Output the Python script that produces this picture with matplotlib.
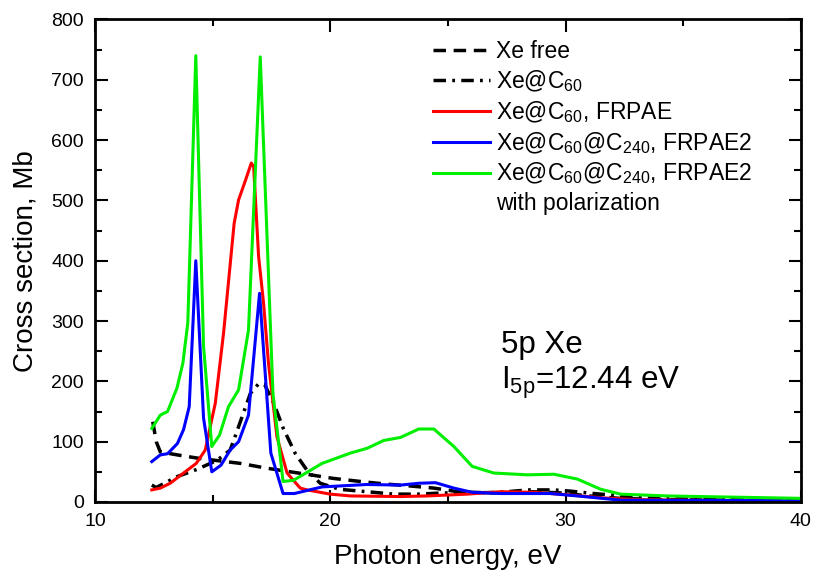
import matplotlib
matplotlib.use('Agg')
import matplotlib.pyplot as plt
from matplotlib.ticker import MultipleLocator

plt.rcParams['font.family'] = ['Liberation Sans', 'DejaVu Sans']
plt.rcParams['mathtext.fontset'] = 'custom'
plt.rcParams['mathtext.rm'] = 'Liberation Sans'
plt.rcParams['mathtext.it'] = 'Liberation Sans'

# --- DATA ---
e_free = [12.45, 12.6, 12.77, 13.5, 14.47, 16.17, 17.3, 18.3, 19.15, 20.14, 21.28,
          22.27, 23.26, 24.4, 25.25, 26.0, 27.2, 28.6, 29.8, 31.0, 32.3, 34.0, 37.0, 40.0]
xe_free = [133, 100, 83, 78, 72, 64, 56, 50, 45, 39, 34,
           30, 27, 23, 18, 16, 15, 17, 15, 10, 6, 4, 3, 2]

e_c60 = [12.41, 12.6, 13.48, 14.33, 15.18, 15.74, 15.9, 16.1, 16.3, 16.6, 16.95, 17.2,
         17.59, 18.0, 18.5, 19.0, 19.57, 20.4, 21.56, 22.7, 23.7, 24.8, 26.0, 27.2,
         28.4, 29.5, 30.2, 31.2, 32.1, 33.0, 35.0, 40.0]
xe_c60 = [28, 24, 42, 54, 69, 86, 103, 125, 147, 180, 196, 195,
          164, 122, 81, 53, 31, 21, 17, 13, 13, 15, 15, 16,
          20, 20, 18, 14, 11, 7, 5, 3]

e_frpae = [12.41, 12.77, 13.19, 13.76, 14.30, 14.68, 15.11, 15.46, 15.91, 16.10, 16.38,
           16.64, 16.74, 16.95, 17.16, 17.37, 17.73, 18.16, 18.72, 19.01, 20.0, 20.85,
           22.98, 24.11, 25.82, 27.23, 28.65, 30.07, 31.49, 32.91, 40.0]
xe_c60_frpae = [20, 23, 31, 48, 64, 86, 164, 280, 462, 501, 532,
                562, 556, 407, 330, 230, 108, 48, 23, 20, 13, 10,
                9, 10, 13, 17, 16, 12, 7, 4, 0.5]

e_frpae2 = [12.41, 12.77, 13.08, 13.50, 13.76, 14.0, 14.28, 14.61, 14.96, 15.35, 15.74,
            16.10, 16.52, 16.99, 17.47, 17.99, 18.47, 19.65, 21.56, 22.98, 23.76, 24.47,
            25.25, 26.03, 27.23, 29.36, 30.5, 32.34, 40.0]
xe_c240_frpae2 = [67, 78, 80, 97, 120, 158, 400, 139, 50, 61, 86,
                  100, 144, 346, 81, 14, 14, 25, 29, 28, 31, 32,
                  23, 16, 14, 14, 10, 3, 2]

e_pol = [12.41, 12.77, 13.08, 13.48, 13.73, 13.94, 14.28, 14.61, 14.96, 15.29, 15.67,
         16.10, 16.52, 17.02, 17.56, 17.99, 18.44, 19.65, 20.85, 21.56, 22.27, 22.98,
         23.76, 24.40, 25.25, 26.03, 26.95, 28.37, 29.50, 30.5, 31.5, 32.34, 34.33,
         37.16, 40.0]
xe_c240_pol = [122, 144, 150, 189, 230, 297, 740, 258, 92, 111, 158,
               186, 285, 738, 180, 34, 36, 64, 81, 89, 102, 107,
               121, 121, 92, 59, 48, 45, 46, 38, 21, 13, 10,
               8, 6]

fig = plt.figure(figsize=(8.13, 5.82), dpi=100)
ax = fig.add_axes([0.117, 0.1375, 0.868, 0.829])

lw = 2.2
ax.plot(e_free, xe_free, color='black', lw=2.5, dashes=(3.6, 2.2), label='Xe free')
ax.plot(e_c60, xe_c60, color='black', lw=2.5, dashes=(3.6, 1.8, 0.8, 1.8),
        label='Xe@C$_{60}$')
ax.plot(e_frpae, xe_c60_frpae, color='#ff0000', lw=lw, label='Xe@C$_{60}$, FRPAE')
ax.plot(e_frpae2, xe_c240_frpae2, color='#0000ff', lw=lw,
        label='Xe@C$_{60}$@C$_{240}$, FRPAE2')
ax.plot(e_pol, xe_c240_pol, color='#00ee00', lw=lw,
        label='Xe@C$_{60}$@C$_{240}$, FRPAE2')
ax.plot([], [], color='none', label='with polarization')

ax.set_xlim(10, 40)
ax.set_ylim(0, 800)
ax.xaxis.set_major_locator(MultipleLocator(10))
ax.xaxis.set_minor_locator(MultipleLocator(5))
ax.yaxis.set_major_locator(MultipleLocator(100))
ax.yaxis.set_minor_locator(MultipleLocator(50))
ax.tick_params(which='both', direction='in', top=True, right=True, width=1.5,
               labelsize=14, pad=8)
ax.tick_params(which='major', length=9)
ax.tick_params(which='minor', length=5)
for s in ax.spines.values():
    s.set_linewidth(2)

ax.set_xlabel('Photon energy, eV', fontsize=20, labelpad=10)
ax.set_ylabel('Cross section, Mb', fontsize=20, labelpad=9)

ax.text(0.575, 0.283, '5p Xe\nI$_{5p}$=12.44 eV', transform=ax.transAxes,
        fontsize=22.5, va='center', ha='left', linespacing=1.2)

ax.legend(loc='upper left', bbox_to_anchor=(0.449, 1.0), frameon=False,
          fontsize=16.5, handlelength=2.5, handletextpad=0.25, labelspacing=0.22)

fig.savefig('out.png', dpi=100)
